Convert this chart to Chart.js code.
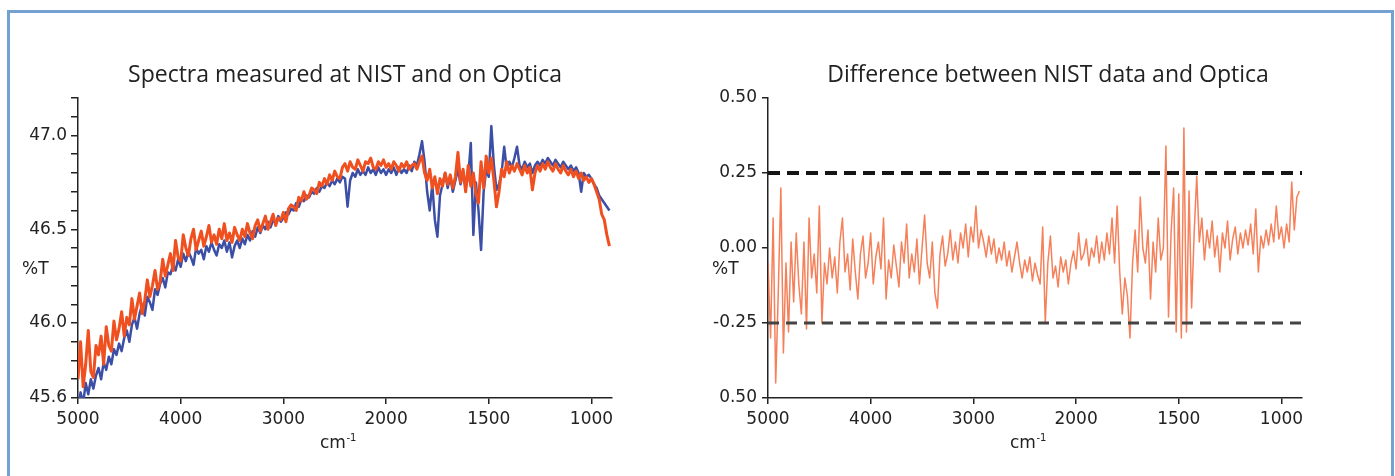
<!DOCTYPE html>
<html>
<head>
<meta charset="utf-8">
<script src="https://cdn.jsdelivr.net/npm/chart.js@4.4.1/dist/chart.umd.min.js"></script>
<style>
    html, body { margin: 0; padding: 0; background: #fff; }
    body { width: 1395px; height: 476px; position: relative; overflow: hidden; }
    .frame { position: absolute; left: 7px; top: 10px; width: 1381px; height: 480px; border: 3px solid #74a1d0; border-bottom: none; }
    canvas { position: absolute; top: 0; }
    #spectra { left: 0; }
    #difference { left: 690px; }
</style>
</head>
<body>
<div class="frame"></div>
<canvas id="spectra" width="690" height="476"></canvas>
<canvas id="difference" width="690" height="476"></canvas>
<script>
// ===== ДАННЫЕ =====
// сетка волновых чисел (cm-1): шаг 25 выше 2000, 12.5 ниже (ось ниже 2000 растянута вдвое)
const wavenumbers = [];
for (let w = 5000; w >= 2000; w -= 25) wavenumbers.push(w);
for (let w = 1987.5; w >= 912.5; w -= 12.5) wavenumbers.push(w);

const xTickValues = [5000, 4000, 3000, 2000, 1500, 1000];

// %T, NIST (синяя)
const nistValues = [
    45.55, 45.63, 45.57, 45.68, 45.62, 45.70, 45.65, 45.72, 45.76, 45.70, 45.79, 45.75,
    45.82, 45.78, 45.86, 45.83, 45.89, 45.85, 45.92, 45.96, 45.90, 45.99, 46.03, 45.97,
    46.05, 46.10, 46.04, 46.14, 46.11, 46.07, 46.18, 46.15, 46.21, 46.24, 46.19, 46.27,
    46.26, 46.31, 46.28, 46.34, 46.30, 46.37, 46.33, 46.38, 46.35, 46.31, 46.40, 46.37,
    46.39, 46.34, 46.41, 46.38, 46.43, 46.39, 46.36, 46.42, 46.40, 46.44, 46.38, 46.43,
    46.35, 46.41, 46.44, 46.40, 46.45, 46.42, 46.47, 46.44, 46.49, 46.46, 46.51, 46.48,
    46.52, 46.50, 46.54, 46.51, 46.55, 46.53, 46.57, 46.54, 46.56, 46.59, 46.58, 46.61,
    46.60, 46.64, 46.62, 46.66, 46.65, 46.68, 46.67, 46.70, 46.69, 46.72, 46.70, 46.73,
    46.72, 46.75, 46.73, 46.76, 46.74, 46.77, 46.75, 46.78,
    46.77, 46.62, 46.76, 46.80, 46.78, 46.82, 46.79, 46.81, 46.79, 46.83, 46.80, 46.82,
    46.79, 46.83, 46.80, 46.82, 46.79, 46.82, 46.80, 46.83, 46.79, 46.83, 46.80, 46.82,
    46.80, 46.84, 46.81, 46.86,
    46.84, 46.90, 46.97, 46.86, 46.70, 46.60, 46.74, 46.55, 46.46, 46.68, 46.74, 46.80,
    46.72, 46.78, 46.70, 46.76, 46.82, 46.74, 46.80, 46.72, 46.78, 46.96, 46.47, 46.75,
    46.60, 46.39, 46.70, 46.82, 46.78, 47.05, 46.84, 46.71, 46.74, 46.80, 46.94, 46.82,
    46.86, 46.83, 46.88, 46.94, 46.84, 46.82, 46.86, 46.83, 46.85, 46.80, 46.84, 46.86,
    46.84, 46.87, 46.85, 46.88, 46.86, 46.84, 46.87, 46.85, 46.83, 46.86, 46.84, 46.82,
    46.84, 46.81, 46.83, 46.80, 46.70, 46.80, 46.78, 46.79, 46.77, 46.74, 46.72, 46.68,
    46.66, 46.64, 46.62, 46.60
];

// %T, Optica (оранжевая)
const opticaValues = [
    45.70, 45.90, 45.66, 45.78, 45.96, 45.74, 45.71, 45.88, 45.83, 45.93, 45.78, 45.98,
    45.88, 45.85, 46.01, 45.91, 45.97, 46.06, 45.93, 46.03, 45.99, 46.13, 46.02, 46.09,
    46.16, 46.05, 46.12, 46.23, 46.14, 46.20, 46.28, 46.18, 46.22, 46.34, 46.25, 46.31,
    46.37, 46.28, 46.44, 46.35, 46.33, 46.47, 46.40, 46.36, 46.45, 46.50, 46.39, 46.44,
    46.49, 46.41, 46.46, 46.52, 46.43, 46.47, 46.42, 46.50, 46.45, 46.53, 46.44, 46.48,
    46.43, 46.51, 46.47, 46.44, 46.50, 46.46, 46.53, 46.48, 46.45, 46.52, 46.55, 46.49,
    46.53, 46.57, 46.50, 46.54, 46.58, 46.52, 46.56, 46.55, 46.59, 46.54, 46.61, 46.63,
    46.62, 46.60, 46.67, 46.65, 46.70, 46.66, 46.68, 46.72, 46.71, 46.69, 46.75, 46.73,
    46.77, 46.74, 46.79, 46.76, 46.81, 46.78, 46.77, 46.83,
    46.85, 46.81, 46.86, 46.83, 46.82, 46.87, 46.84, 46.81, 46.86, 46.85, 46.88, 46.83,
    46.82, 46.86, 46.84, 46.87, 46.83, 46.85, 46.82, 46.86, 46.84, 46.81, 46.85, 46.83,
    46.86, 46.82, 46.84, 46.85,
    46.82, 46.86, 46.89, 46.80, 46.76, 46.82, 46.72, 46.78, 46.69, 46.77, 46.73, 46.80,
    46.74, 46.79, 46.72, 46.78, 46.91, 46.75, 46.82, 46.70, 46.84, 46.73, 46.80, 46.69,
    46.64, 46.86, 46.72, 46.89, 46.80, 46.88, 46.76, 46.62, 46.70, 46.82, 46.78, 46.86,
    46.80, 46.84, 46.81, 46.85, 46.82, 46.79, 46.84, 46.80, 46.83, 46.71, 46.80, 46.84,
    46.81, 46.85, 46.82, 46.86, 46.83, 46.81, 46.85, 46.82, 46.80, 46.84, 46.81, 46.79,
    46.82, 46.78, 46.81, 46.77, 46.80, 46.76, 46.78, 46.75, 46.77, 46.74, 46.70, 46.66,
    46.58, 46.55, 46.47, 46.41
];

// разница NIST - Optica, %T
const differenceValues = [
    -0.05, -0.30, 0.10, -0.45, -0.15, 0.20, -0.35, -0.05, -0.28, 0.02,
    -0.18, 0.05, -0.12, -0.22, 0.02, -0.27, 0.10, -0.10, -0.02, -0.15,
    0.14, -0.25, -0.05, -0.12, 0.00, -0.10, -0.03, -0.15, 0.02, 0.10,
    -0.08, -0.02, -0.14, 0.03, -0.08, -0.17, -0.02, 0.04, -0.10, -0.05,
    0.05, -0.12, -0.03, 0.02, -0.07, 0.10, -0.17, -0.04, -0.10, 0.01,
    -0.06, -0.13, 0.02, -0.05, 0.08, -0.10, -0.02, -0.08, 0.03, -0.12,
    0.00, 0.11, -0.05, -0.10, 0.02, -0.15, -0.20, -0.02, 0.04, -0.06,
    -0.02, 0.06, -0.04, 0.02, -0.05, 0.05, 0.00, 0.08, -0.03, 0.07,
    0.02, 0.14, 0.00, 0.06, 0.02, -0.03, 0.04, -0.02, 0.03, -0.05,
    0.00, -0.04, 0.02, -0.06, -0.01, -0.08, -0.03, 0.02, -0.05, -0.10,
    -0.04, -0.08, -0.03, -0.11, -0.05, -0.09, -0.12, 0.07, -0.25, -0.05,
    0.04, -0.10, -0.06, -0.13, -0.03, -0.08, -0.04, -0.12, -0.05, -0.01,
    -0.07, 0.05, -0.04, -0.02, 0.03, -0.06, 0.00, -0.03, 0.04, -0.05,
    0.02, -0.04, 0.05, -0.02, 0.10, -0.05, 0.14, -0.08, -0.22, -0.10,
    -0.16, -0.30, -0.05, 0.06, -0.08, 0.17, 0.00, -0.05, 0.06, -0.17,
    0.02, -0.08, 0.10, -0.04, 0.00, 0.34, -0.23, 0.05, 0.20, -0.28,
    0.18, -0.30, 0.40, -0.28, 0.19, -0.20, 0.05, 0.24, 0.02, 0.10,
    -0.04, 0.06, 0.00, 0.09, -0.03, 0.04, -0.08, 0.05, 0.00, 0.09,
    -0.04, 0.03, 0.07, -0.02, 0.05, 0.00, 0.06, 0.01, 0.08, -0.02,
    0.13, -0.08, 0.04, 0.00, 0.06, 0.01, 0.08, 0.02, 0.14, 0.03,
    0.07, 0.00, 0.08, 0.02, 0.22, 0.06, 0.17, 0.19
];

const limitValues = [0.25, -0.25];
const spectraYLabels = ['45.6', '46.0', '46.5', '47.0'];
const differenceYLabels = ['0.50', '-0.25', '0.00', '0.25', '0.50']; // снизу вверх, как в оригинале
const axisEnd = 900;

// ===== ОСЬ X: 5000-2000 в одном масштабе, ниже 2000 вдвое растянута =====
function toAxis(w) {
    return w >= 2000 ? 5000 - w : 3000 + 2 * (2000 - w);
}
function fromAxis(u) {
    return u <= 3000 ? 5000 - u : 2000 - (u - 3000) / 2;
}

const ink = '#222';
const tickFont = { family: 'DejaVu Sans', size: 17 };

function xScale() {
    return {
        type: 'linear',
        min: 0,
        max: toAxis(axisEnd),
        afterFit: s => { s.height = 78; },
        afterBuildTicks: s => { s.ticks = xTickValues.map(w => ({ value: toAxis(w) })); },
        border: { color: ink, width: 1.5 },
        grid: { drawOnChartArea: false, color: ink, lineWidth: 1.5, tickLength: 6 },
        ticks: {
            autoSkip: false,
            maxRotation: 0,
            padding: 5,
            color: ink,
            font: tickFont,
            callback: v => String(fromAxis(v))
        }
    };
}

// подписи: заголовок, %T, cm-1
const panelText = {
    id: 'panelText',
    afterDraw(chart, args, opts) {
        const ctx = chart.ctx;
        const a = chart.chartArea;
        ctx.save();
        ctx.fillStyle = ink;
        ctx.textBaseline = 'alphabetic';
        ctx.font = '23px "Open Sans"';
        ctx.textAlign = 'center';
        ctx.fillText(opts.title, opts.titleX, 82);
        ctx.textAlign = 'left';
        ctx.font = '17px "DejaVu Sans"';
        ctx.fillText('%T', 22, 274);
        const cx = (a.left + a.right) / 2 - 25;
        ctx.fillText('cm', cx, 448);
        const w = ctx.measureText('cm').width;
        ctx.font = '10px "DejaVu Sans"';
        ctx.fillText('-1', cx + w + 0.5, 441);
        ctx.restore();
    }
};

function points(values) {
    return values.map((v, i) => ({ x: toAxis(wavenumbers[i]), y: v }));
}

const common = {
    responsive: false,
    animation: false,
    devicePixelRatio: 1,
    layout: { padding: { top: 98, right: 78, bottom: 0, left: 0 } },
    elements: { point: { radius: 0 }, line: { tension: 0, borderJoinStyle: 'round' } }
};

// ===== ЛЕВЫЙ ГРАФИК =====
new Chart(document.getElementById('spectra'), {
    type: 'line',
    data: {
        datasets: [
            { label: 'Optica', data: points(opticaValues), borderColor: '#f0501f', borderWidth: 3 },
            { label: 'NIST', data: points(nistValues), borderColor: '#3c4fa6', borderWidth: 2.5 }
        ]
    },
    options: {
        ...common,
        plugins: {
            legend: { display: false },
            tooltip: { enabled: false },
            panelText: { title: 'Spectra measured at NIST and on Optica', titleX: 345 }
        },
        scales: {
            x: xScale(),
            y: {
                min: 45.6,
                max: 47.2,
                afterFit: s => { s.width = 78; },
                border: { color: ink, width: 1.5 },
                grid: { drawOnChartArea: false, color: ink, lineWidth: 1.5, tickLength: 7 },
                ticks: {
                    stepSize: 0.1,
                    autoSkip: false,
                    padding: 4,
                    color: ink,
                    font: tickFont,
                    callback: v => {
                        const s = v.toFixed(1);
                        return spectraYLabels.includes(s) ? s : '';
                    }
                }
            }
        }
    },
    plugins: [panelText]
});

// ===== ПРАВЫЙ ГРАФИК =====
const xEnd = toAxis(axisEnd);
new Chart(document.getElementById('difference'), {
    type: 'line',
    data: {
        datasets: [
            { data: [{ x: 0, y: limitValues[0] }, { x: xEnd, y: limitValues[0] }], borderColor: '#151515', borderWidth: 4, borderDash: [12, 7] },
            { data: [{ x: 0, y: limitValues[1] }, { x: xEnd, y: limitValues[1] }], borderColor: '#444', borderWidth: 3, borderDash: [11, 7] },
            { data: points(differenceValues), borderColor: 'rgba(242, 96, 48, 0.8)', borderWidth: 1.5 }
        ]
    },
    options: {
        ...common,
        plugins: {
            legend: { display: false },
            tooltip: { enabled: false },
            panelText: { title: 'Difference between NIST data and Optica', titleX: 358 }
        },
        scales: {
            x: xScale(),
            y: {
                min: -0.5,
                max: 0.5,
                afterFit: s => { s.width = 78; },
                border: { color: ink, width: 1.5 },
                grid: { drawOnChartArea: false, color: ink, lineWidth: 1.5, tickLength: 6 },
                ticks: {
                    stepSize: 0.25,
                    autoSkip: false,
                    padding: 5,
                    color: ink,
                    font: tickFont,
                    callback: (v, i) => differenceYLabels[i]
                }
            }
        }
    },
    plugins: [panelText]
});
</script>
</body>
</html>
